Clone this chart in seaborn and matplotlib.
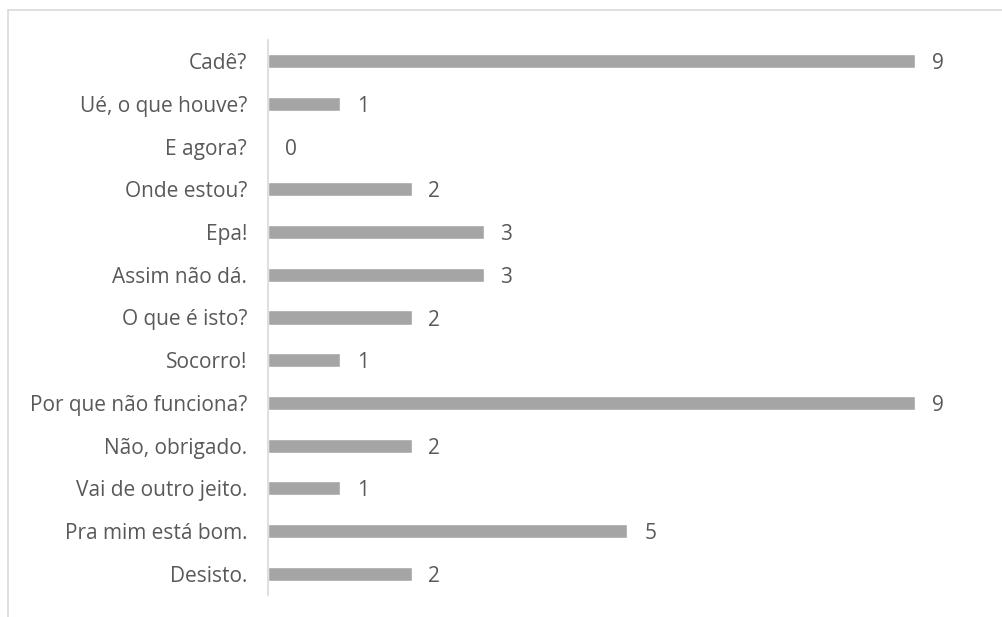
import matplotlib
matplotlib.use("Agg")
import matplotlib.pyplot as plt
from matplotlib.lines import Line2D
import seaborn as sns
import pandas as pd

categories = [
    "Cadê?", "Ué, o que houve?", "E agora?", "Onde estou?", "Epa!",
    "Assim não dá.", "O que é isto?", "Socorro!", "Por que não funciona?",
    "Não, obrigado.", "Vai de outro jeito.", "Pra mim está bom.", "Desisto.",
]
counts = [9, 1, 0, 2, 3, 3, 2, 1, 9, 2, 1, 5, 2]

df = pd.DataFrame({"resposta": categories, "total": counts})

sns.set_theme(style="white")
plt.rcParams["font.family"] = ["Open Sans", "DejaVu Sans"]

text_color = "#595959"
fs = 15
fig = plt.figure(figsize=(10.03, 6.17), dpi=100)
ax = fig.add_axes([268 / 1003, 1 - 595 / 617, 719 / 1003, (595 - 40) / 617])

sns.barplot(data=df, y="resposta", x="total", orient="h", color="#a5a5a5",
            saturation=1, width=0.33, ax=ax, order=categories)

ax.set_xlim(0, 10)
ax.set_ylim(len(categories) - 0.5, -0.5)
ax.set_xlabel("")
ax.set_ylabel("")
ax.set_xticks([])
for side in ["top", "right", "bottom"]:
    ax.spines[side].set_visible(False)
ax.spines["left"].set_color("#d9d9d9")
ax.spines["left"].set_linewidth(1.2)
ax.tick_params(axis="y", length=0, pad=15, labelsize=fs, labelcolor=text_color)

for container in ax.containers:
    labels = ax.bar_label(container, fmt="%d", padding=12, fontsize=fs,
                          color=text_color)
    for lbl in labels:
        lbl.set_va("center_baseline")

# outer frame (left and top edges)
fig.add_artist(Line2D([8 / 1003, 8 / 1003], [0, 1 - 10 / 617],
                      transform=fig.transFigure, color="#d9d9d9", lw=1.2))
fig.add_artist(Line2D([8 / 1003, 1], [1 - 10 / 617, 1 - 10 / 617],
                      transform=fig.transFigure, color="#d9d9d9", lw=1.2))

fig.savefig("out.png", dpi=100)
